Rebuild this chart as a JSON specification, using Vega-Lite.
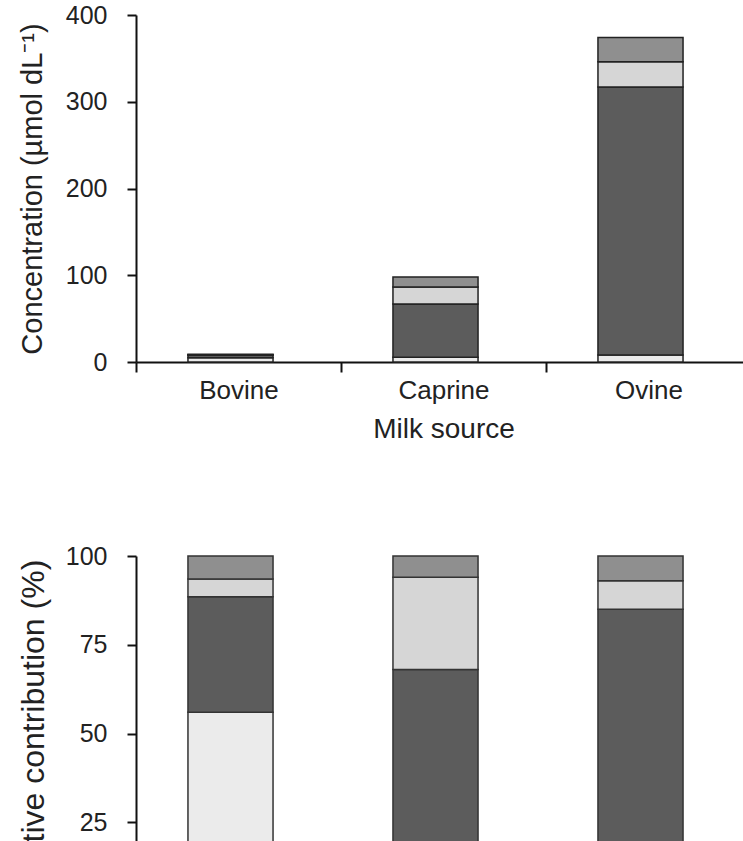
{
  "$schema": "https://vega.github.io/schema/vega-lite/v6.json",
  "autosize": {"type": "pad"},
  "padding": {"top": 3, "left": 17, "right": 0, "bottom": 0},
  "bounds": "flush",
  "spacing": 194,
  "config": {
    "font": "Liberation Sans",
    "view": {"stroke": null},
    "axis": {
      "domainColor": "#111",
      "domainWidth": 2,
      "tickColor": "#111",
      "tickWidth": 2,
      "labelColor": "#222",
      "titleColor": "#222",
      "labelFont": "Liberation Sans",
      "titleFont": "Liberation Sans",
      "titleFontWeight": "normal",
      "grid": false
    }
  },
  "datasets": {
    "conc": [
      {"source": "Bovine", "component": "Fraction 1", "ord": 1, "value": 5.0},
      {"source": "Bovine", "component": "Fraction 2", "ord": 2, "value": 2.9},
      {"source": "Bovine", "component": "Fraction 3", "ord": 3, "value": 0.5},
      {"source": "Bovine", "component": "Fraction 4", "ord": 4, "value": 0.6},
      {"source": "Caprine", "component": "Fraction 1", "ord": 1, "value": 5.5},
      {"source": "Caprine", "component": "Fraction 2", "ord": 2, "value": 61.5},
      {"source": "Caprine", "component": "Fraction 3", "ord": 3, "value": 19.5},
      {"source": "Caprine", "component": "Fraction 4", "ord": 4, "value": 11.5},
      {"source": "Ovine", "component": "Fraction 1", "ord": 1, "value": 8},
      {"source": "Ovine", "component": "Fraction 2", "ord": 2, "value": 309},
      {"source": "Ovine", "component": "Fraction 3", "ord": 3, "value": 29},
      {"source": "Ovine", "component": "Fraction 4", "ord": 4, "value": 28}
    ],
    "rel": [
      {"source": "Bovine", "component": "Fraction 1", "ord": 1, "value": 56},
      {"source": "Bovine", "component": "Fraction 2", "ord": 2, "value": 32.5},
      {"source": "Bovine", "component": "Fraction 3", "ord": 3, "value": 5},
      {"source": "Bovine", "component": "Fraction 4", "ord": 4, "value": 6.5},
      {"source": "Caprine", "component": "Fraction 1", "ord": 1, "value": 5},
      {"source": "Caprine", "component": "Fraction 2", "ord": 2, "value": 63},
      {"source": "Caprine", "component": "Fraction 3", "ord": 3, "value": 26},
      {"source": "Caprine", "component": "Fraction 4", "ord": 4, "value": 6},
      {"source": "Ovine", "component": "Fraction 1", "ord": 1, "value": 2},
      {"source": "Ovine", "component": "Fraction 2", "ord": 2, "value": 83},
      {"source": "Ovine", "component": "Fraction 3", "ord": 3, "value": 8},
      {"source": "Ovine", "component": "Fraction 4", "ord": 4, "value": 7}
    ]
  },
  "vconcat": [
    {
      "width": 615,
      "height": 347,
      "data": {"name": "conc"},
      "mark": {"type": "bar", "stroke": "#222", "strokeWidth": 1.5, "width": {"band": 0.415}, "xOffset": -8},
      "encoding": {
        "x": {
          "field": "source", "type": "nominal", "sort": ["Bovine", "Caprine", "Ovine"],
          "scale": {"paddingInner": 0, "paddingOuter": 0},
          "axis": {
            "title": "Milk source", "labelAngle": 0, "labelFontSize": 26, "titleFontSize": 28,
            "tickBand": "extent", "tickSize": 10, "labelPadding": 5, "titlePadding": 12
          }
        },
        "y": {
          "field": "value", "type": "quantitative", "stack": "zero",
          "scale": {"domain": [0, 400], "nice": false},
          "axis": {
            "title": "Concentration (µmol dL⁻¹)", "values": [0, 100, 200, 300, 400],
            "labelFontSize": 25, "titleFontSize": 29, "tickSize": 9, "labelPadding": 20, "titlePadding": 18
          }
        },
        "fill": {
          "field": "component", "type": "nominal",
          "scale": {"domain": ["Fraction 1", "Fraction 2", "Fraction 3", "Fraction 4"], "range": ["#ebebeb", "#5c5c5c", "#d6d6d6", "#8f8f8f"]},
          "legend": null
        },
        "order": {"field": "ord", "type": "quantitative"}
      }
    },
    {
      "width": 615,
      "height": 355,
      "data": {"name": "rel"},
      "mark": {"type": "bar", "stroke": "#333", "strokeWidth": 1.5, "width": {"band": 0.415}, "xOffset": -8},
      "encoding": {
        "x": {
          "field": "source", "type": "nominal", "sort": ["Bovine", "Caprine", "Ovine"],
          "scale": {"paddingInner": 0, "paddingOuter": 0},
          "axis": {
            "title": null, "labels": false,
            "tickBand": "extent", "tickSize": 10
          }
        },
        "y": {
          "field": "value", "type": "quantitative", "stack": "zero",
          "scale": {"domain": [0, 100], "nice": false},
          "axis": {
            "title": "Relative contribution (%)", "values": [0, 25, 50, 75, 100],
            "labelFontSize": 25, "titleFontSize": 32, "tickSize": 9, "labelPadding": 20, "titlePadding": 15
          }
        },
        "fill": {
          "field": "component", "type": "nominal",
          "scale": {"domain": ["Fraction 1", "Fraction 2", "Fraction 3", "Fraction 4"], "range": ["#ebebeb", "#5c5c5c", "#d6d6d6", "#8f8f8f"]},
          "legend": null
        },
        "order": {"field": "ord", "type": "quantitative"}
      }
    }
  ]
}
